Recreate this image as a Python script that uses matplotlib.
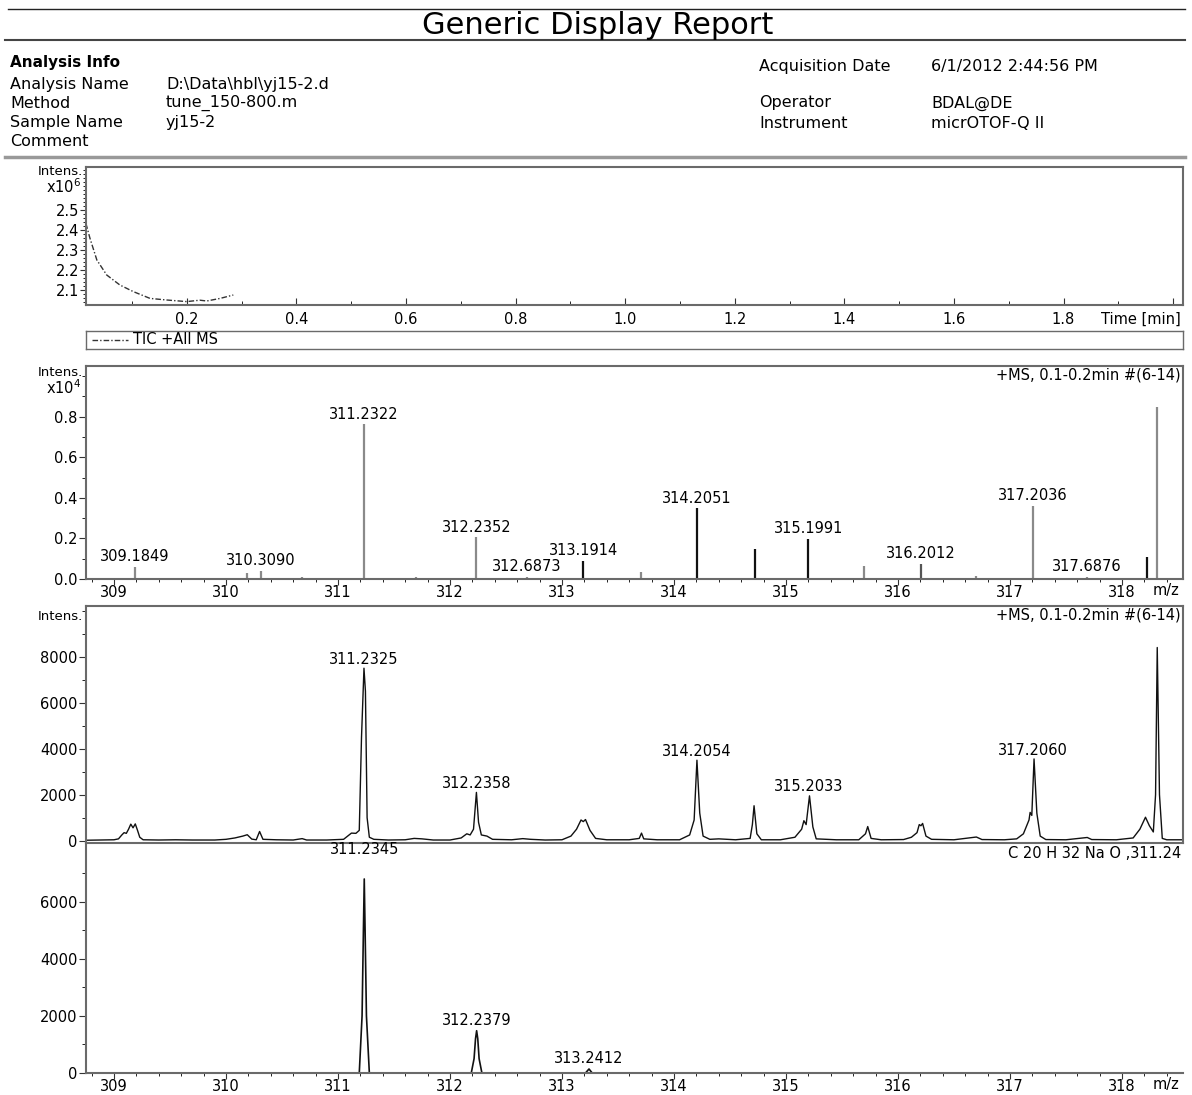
import matplotlib
matplotlib.use("Agg")
import matplotlib.pyplot as plt
from matplotlib.lines import Line2D
from matplotlib.ticker import MultipleLocator, FixedLocator, FixedFormatter, NullLocator

W, H = 1192, 1095

# ---- header info ----
title = "Generic Display Report"
info_left_keys = ["Analysis Name", "Method", "Sample Name", "Comment"]
info_left_vals = ["D:\\Data\\hbl\\yj15-2.d", "tune_150-800.m", "yj15-2", ""]
info_right_keys = ["Acquisition Date", "Operator", "Instrument"]
info_right_vals = ["6/1/2012 2:44:56 PM", "BDAL@DE", "micrOTOF-Q II"]

# ---- TIC (x10^6) ----
tic_time = [0.016, 0.0235, 0.036, 0.054, 0.078, 0.1025, 0.133, 0.1635, 0.20, 0.224, 0.2365, 0.261, 0.285]
tic_int = [2.433, 2.358, 2.25, 2.175, 2.125, 2.092, 2.058, 2.05, 2.042, 2.049, 2.045, 2.058, 2.075]

# ---- line spectrum (x10^4) ----
stick_mz = [309.1849, 310.19, 310.3090, 310.68, 311.2322, 311.70, 312.2352, 312.6873, 313.1914, 313.705,
            314.2051, 314.72, 315.1991, 315.70, 316.2012, 316.70, 317.2036, 317.6876, 318.22, 318.315]
stick_int = [0.061, 0.028, 0.041, 0.012, 0.762, 0.01, 0.205, 0.012, 0.091, 0.033,
             0.348, 0.149, 0.199, 0.066, 0.075, 0.017, 0.361, 0.012, 0.108, 0.848]
stick_labels = ["309.1849", "", "310.3090", "", "311.2322", "", "312.2352", "312.6873", "313.1914", "",
                "314.2051", "", "315.1991", "", "316.2012", "", "317.2036", "317.6876", "", ""]
stick_colors = ["#8a8a8a", "#8a8a8a", "#8a8a8a", "#8a8a8a", "#8a8a8a", "#8a8a8a", "#8a8a8a", "#8a8a8a", "#111111", "#8a8a8a",
                "#111111", "#111111", "#111111", "#8a8a8a", "#555555", "#8a8a8a", "#8a8a8a", "#8a8a8a", "#111111", "#8a8a8a"]

# ---- profile spectrum ----
profile_mz = [308.75, 308.90, 309.00, 309.04, 309.07, 309.09, 309.11, 309.13, 309.15, 309.17, 309.19, 309.21, 309.23, 309.26,
              309.40, 309.55, 309.70, 309.90, 310.00, 310.08, 310.15, 310.19, 310.23, 310.27, 310.30, 310.33, 310.45,
              310.60, 310.68, 310.72, 310.90, 311.05, 311.12, 311.16, 311.19, 311.21, 311.232, 311.245, 311.26, 311.28,
              311.32, 311.45, 311.60, 311.68, 311.75, 311.85, 312.00, 312.10, 312.15, 312.18, 312.21, 312.236, 312.255,
              312.28, 312.33, 312.38, 312.55, 312.65, 312.72, 312.85, 313.00, 313.08, 313.13, 313.17, 313.19, 313.21,
              313.25, 313.30, 313.40, 313.60, 313.69, 313.71, 313.73, 313.85, 314.05, 314.14, 314.18, 314.205, 314.23,
              314.26, 314.32, 314.40, 314.55, 314.68, 314.70, 314.715, 314.74, 314.78, 314.95, 315.08, 315.14, 315.16,
              315.18, 315.21, 315.24, 315.27, 315.45, 315.65, 315.71, 315.73, 315.76, 315.85, 316.05, 316.12, 316.17,
              316.19, 316.205, 316.22, 316.25, 316.30, 316.50, 316.70, 316.75, 316.95, 317.06, 317.12, 317.17, 317.18,
              317.195, 317.215, 317.24, 317.27, 317.32, 317.50, 317.69, 317.73, 317.95, 318.10, 318.16, 318.21, 318.245,
              318.28, 318.30, 318.315, 318.335, 318.36, 318.40, 318.545]
profile_int = [20, 30, 40, 80, 250, 350, 320, 500, 720, 560, 730, 450, 150, 40,
               30, 40, 30, 30, 60, 120, 200, 260, 70, 40, 400, 60, 40,
               30, 90, 30, 30, 60, 330, 320, 450, 4500, 7500, 6500, 1000, 150,
               60, 30, 40, 100, 80, 30, 30, 120, 300, 250, 500, 2100, 800,
               250, 200, 60, 40, 90, 60, 30, 40, 200, 500, 900, 830, 920,
               450, 100, 40, 40, 100, 330, 80, 40, 40, 250, 900, 3500, 1200,
               200, 60, 80, 40, 100, 700, 1520, 300, 40, 40, 150, 500, 870,
               700, 1950, 600, 80, 40, 40, 300, 615, 100, 40, 50, 150, 350,
               700, 650, 750, 200, 60, 40, 160, 50, 40, 80, 300, 900, 1230,
               1100, 3555, 1200, 200, 50, 40, 140, 50, 40, 120, 500, 1020, 650,
               380, 2000, 8400, 2000, 100, 40, 40]
profile_peak_mz = [311.2325, 312.2358, 314.2054, 315.2033, 317.2060]
profile_peak_int = [7500, 2100, 3500, 1950, 3555]

# ---- simulated isotope pattern C20H32NaO ----
iso_mz = [311.19, 311.215, 311.227, 311.2345, 311.242, 311.254, 311.28,
          312.19, 312.215, 312.228, 312.2379, 312.248, 312.26, 312.285,
          313.21, 313.2412, 313.27]
iso_int = [0, 2000, 5000, 6790, 5000, 2000, 0,
           0, 500, 1200, 1480, 1200, 500, 0,
           0, 140, 0]
iso_peak_mz = [311.2345, 312.2379, 313.2412]
iso_peak_int = [6790, 1480, 140]

mz_ticks = [309, 310, 311, 312, 313, 314, 315, 316, 317, 318]

fig = plt.figure(figsize=(W / 100, H / 100), dpi=100)
FS = 10.5
SPINE = "#6a6a6a"


def fx(x):
    return x / W


def fy(y):
    return 1 - y / H


def hline(y, x0, x1, color, lw):
    fig.add_artist(Line2D([fx(x0), fx(x1)], [fy(y), fy(y)], transform=fig.transFigure, color=color, lw=lw))


def panel(top, bottom, left=86, right=1183):
    ax = fig.add_axes([fx(left), fy(bottom), (right - left) / W, (bottom - top) / H])
    for s in ax.spines.values():
        s.set_color(SPINE)
        s.set_linewidth(1.5)
    ax.tick_params(labelsize=FS, colors="#333333", labelcolor="black")
    return ax


# header
hline(9, 8, 1185, "#222222", 1.0)
fig.text(fx(598), fy(25), title, ha="center", va="center", fontsize=22)
hline(40, 5, 1185, "#444444", 1.5)
fig.text(fx(10), fy(62), "Analysis Info", ha="left", va="center", fontsize=11, fontweight="bold")
for i, (k, v) in enumerate(zip(info_left_keys, info_left_vals)):
    yy = [85, 103, 123, 141][i]
    fig.text(fx(10), fy(yy), k, ha="left", va="center", fontsize=11.5)
    fig.text(fx(166), fy(yy), v, ha="left", va="center", fontsize=11.5)
for i, (k, v) in enumerate(zip(info_right_keys, info_right_vals)):
    yy = [66, 103, 123][i]
    fig.text(fx(759), fy(yy), k, ha="left", va="center", fontsize=11.5)
    fig.text(fx(931), fy(yy), v, ha="left", va="center", fontsize=11.5)
hline(157, 5, 1185, "#999999", 2.5)

# ---- TIC panel ----
ax1 = panel(167, 305)
ax1.plot(tic_time, tic_int, color="#333333", lw=1.0, ls=(0, (4, 1.5, 1, 1.5)))
ax1.set_xlim(0.0162, 2.018)
ax1.set_ylim(2.025, 2.715)
ax1.xaxis.set_major_locator(FixedLocator([0.2, 0.4, 0.6, 0.8, 1.0, 1.2, 1.4, 1.6, 1.8, 2.0]))
ax1.xaxis.set_major_formatter(FixedFormatter(["0.2", "0.4", "0.6", "0.8", "1.0", "1.2", "1.4", "1.6", "1.8", ""]))
ax1.xaxis.set_minor_locator(MultipleLocator(0.1))
ax1.tick_params(axis="x", which="both", direction="in", pad=5)
ax1.tick_params(axis="x", which="major", length=5)
ax1.tick_params(axis="x", which="minor", length=3)
ax1.yaxis.set_major_locator(FixedLocator([2.1, 2.2, 2.3, 2.4, 2.5]))
ax1.yaxis.set_minor_locator(MultipleLocator(0.02))
ax1.tick_params(axis="y", which="major", direction="out", length=4, pad=1)
ax1.tick_params(axis="y", which="minor", direction="out", length=2)
fig.text(fx(83), fy(172), "Intens.", ha="right", va="center", fontsize=9.5)
fig.text(fx(81), fy(187), "x10$^6$", ha="right", va="center", fontsize=10.5)
fig.text(fx(1181), fy(319), "Time [min]", ha="right", va="center", fontsize=FS)

# legend strip
axl = panel(331, 349)
for s in axl.spines.values():
    s.set_linewidth(1.0)
axl.set_xlim(0, 1097)
axl.set_ylim(0, 1)
axl.set_xticks([])
axl.set_yticks([])
axl.plot([6, 42], [0.5, 0.5], color="#333333", lw=1.0, ls=(0, (4, 1.5, 1, 1.5)))
axl.text(47, 0.5, "TIC +All MS", ha="left", va="center", fontsize=FS)

# ---- line spectrum ----
ax2 = panel(366, 579)
ax2.vlines(stick_mz, 0, stick_int, colors=stick_colors, lw=1.6)
for mz, h, lbl in zip(stick_mz, stick_int, stick_labels):
    if lbl:
        ax2.annotate(lbl, (mz, h), xytext=(0, 2), textcoords="offset points",
                     ha="center", va="bottom", fontsize=FS)
ax2.set_xlim(308.75, 318.545)
ax2.set_ylim(0, 1.05)
ax2.xaxis.set_major_locator(FixedLocator(mz_ticks))
ax2.xaxis.set_minor_locator(MultipleLocator(0.2))
ax2.tick_params(axis="x", which="major", direction="out", length=4, pad=0.5)
ax2.tick_params(axis="x", which="minor", direction="out", length=2.5)
ax2.yaxis.set_major_locator(FixedLocator([0.0, 0.2, 0.4, 0.6, 0.8]))
ax2.yaxis.set_major_formatter(FixedFormatter(["0.0", "0.2", "0.4", "0.6", "0.8"]))
ax2.yaxis.set_minor_locator(FixedLocator([0.1, 0.3, 0.5, 0.7, 0.9, 1.0]))
ax2.tick_params(axis="y", which="major", direction="out", length=5, pad=1)
ax2.tick_params(axis="y", which="minor", direction="out", length=3)
ax2.text(0.998, 0.995, "+MS, 0.1-0.2min #(6-14)", transform=ax2.transAxes, ha="right", va="top", fontsize=FS)
fig.text(fx(83), fy(373), "Intens.", ha="right", va="center", fontsize=9.5)
fig.text(fx(81), fy(388), "x10$^4$", ha="right", va="center", fontsize=10.5)
fig.text(fx(1166), fy(590), "m/z", ha="center", va="center", fontsize=FS)

# ---- profile spectrum ----
ax3 = panel(606, 843)
ax3.plot(profile_mz, profile_int, color="#111111", lw=1.0)
for mz, h in zip(profile_peak_mz, profile_peak_int):
    ax3.annotate(f"{mz:.4f}", (mz, h), xytext=(0, 1), textcoords="offset points",
                 ha="center", va="bottom", fontsize=FS)
ax3.set_xlim(308.75, 318.545)
ax3.set_ylim(-100, 10205)
ax3.xaxis.set_major_locator(NullLocator())
ax3.yaxis.set_major_locator(FixedLocator([0, 2000, 4000, 6000, 8000]))
ax3.yaxis.set_minor_locator(FixedLocator([1000, 3000, 5000, 7000, 9000, 10000]))
ax3.tick_params(axis="y", which="major", direction="out", length=5, pad=1)
ax3.tick_params(axis="y", which="minor", direction="out", length=3)
ax3.text(0.998, 0.995, "+MS, 0.1-0.2min #(6-14)", transform=ax3.transAxes, ha="right", va="top", fontsize=FS)
fig.text(fx(83), fy(617), "Intens.", ha="right", va="center", fontsize=9.5)

# ---- simulated pattern ----
ax4 = panel(843, 1073)
ax4.spines["top"].set_visible(False)
ax4.spines["right"].set_visible(False)
ax4.patch.set_alpha(0)
ax4.plot(iso_mz, iso_int, color="#111111", lw=1.2)
for i, (mz, h) in enumerate(zip(iso_peak_mz, iso_peak_int)):
    off = 16 if i == 0 else 2
    ax4.annotate(f"{mz:.4f}", (mz, h), xytext=(0, off), textcoords="offset points",
                 ha="center", va="bottom", fontsize=FS)
ax4.set_xlim(308.75, 318.545)
ax4.set_ylim(0, 8050)
ax4.xaxis.set_major_locator(FixedLocator(mz_ticks))
ax4.xaxis.set_minor_locator(MultipleLocator(0.2))
ax4.tick_params(axis="x", which="major", direction="out", length=4, pad=0.5)
ax4.tick_params(axis="x", which="minor", direction="out", length=2.5)
ax4.yaxis.set_major_locator(FixedLocator([0, 2000, 4000, 6000]))
ax4.yaxis.set_minor_locator(FixedLocator([1000, 3000, 5000, 7000]))
ax4.tick_params(axis="y", which="major", direction="out", length=5, pad=1)
ax4.tick_params(axis="y", which="minor", direction="out", length=3)
ax4.text(0.998, 0.985, "C 20 H 32 Na O ,311.24", transform=ax4.transAxes, ha="right", va="top", fontsize=FS)
fig.text(fx(1166), fy(1084), "m/z", ha="center", va="center", fontsize=FS)

fig.savefig("out.png", dpi=100)
